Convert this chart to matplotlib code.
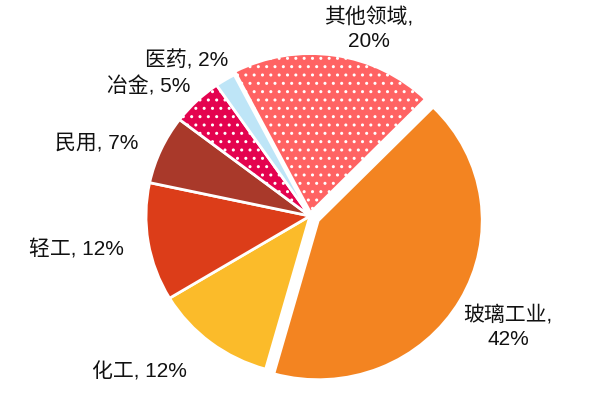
import matplotlib
matplotlib.use("Agg")
import matplotlib.pyplot as plt

plt.rcParams['font.family'] = ['Liberation Sans', 'Noto Sans CJK SC', 'DejaVu Sans']
plt.rcParams['hatch.linewidth'] = 1.0

# Share of downstream demand (%), drawn clockwise from the top
categories = ["其他领域", "玻璃工业", "化工", "轻工", "民用", "冶金", "医药"]
shares = [20, 42, 12, 12, 7, 5, 2]
colors = ["#FF6363", "#F38421", "#FBBB2A", "#DC3D19", "#A9392A", "#E4034F", "#BEE5F7"]
hatches = ["..", None, None, None, None, "..", None]
# pull-out distance of each wedge (pixels, since the axes are in pixel units)
explode = [3.5, 9.5, 0, 0, 0, 0, 0]

# label text and anchor (pixel position of the label centre)
labels = ["其他领域,\n20%", "玻璃工业,\n42%", "化工, 12%", "轻工, 12%",
          "民用, 7%", "冶金, 5%", "医药, 2%"]
label_pos = [(369, 29), (508, 327), (139, 372), (76, 250),
             (97, 143), (149, 86), (187, 60)]

W, H = 600, 400
YSCALE = 0.97  # pie is drawn slightly flatter than a circle

fig = plt.figure(figsize=(6, 4), dpi=100)
ax = fig.add_axes([0, 0, 1, 1])

cx, cy = 310, (H - 216) / YSCALE
wedges, _ = ax.pie(shares, colors=colors, explode=explode, startangle=117.5,
                   counterclock=False, radius=164, center=(cx, cy),
                   wedgeprops=dict(edgecolor="white", linewidth=2.0))
for w, h in zip(wedges, hatches):
    if h:
        w.set_hatch(h)

ax.set_aspect('auto')
ax.set_xlim(0, W)
ax.set_ylim(0, H / YSCALE)
ax.axis('off')

for text, (px, py) in zip(labels, label_pos):
    fig.text(px / W, 1 - py / H, text, ha='center', va='center',
             multialignment='center', fontsize=15, color='#111111',
             linespacing=1.3)

fig.savefig("out.png", dpi=100)
